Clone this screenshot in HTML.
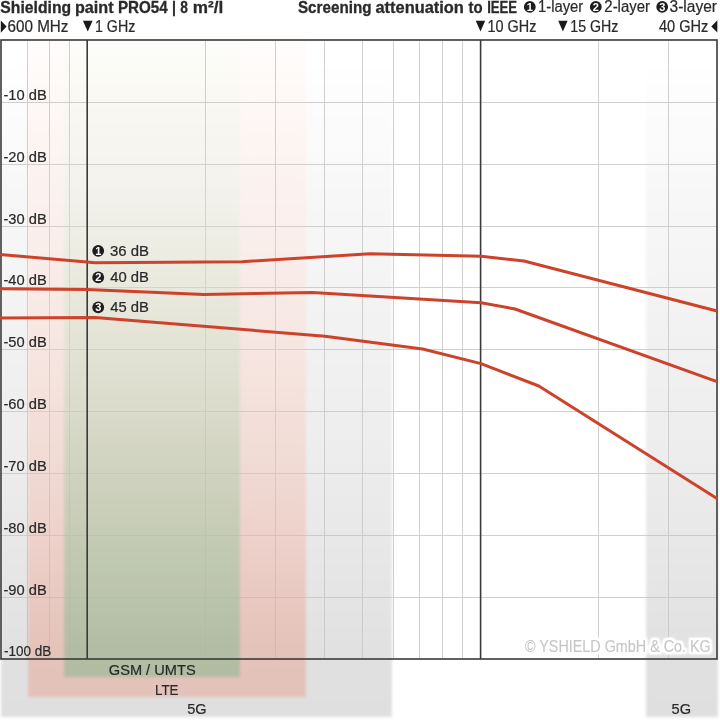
<!DOCTYPE html>
<html><head><meta charset="utf-8"><title>Shielding paint PRO54</title>
<style>
html,body{margin:0;padding:0;background:#fff;width:720px;height:720px;overflow:hidden}
svg{display:block}
text{font-family:"Liberation Sans","DejaVu Sans",sans-serif;fill:#2a2a2a;stroke:#2a2a2a;stroke-width:0.22}
.b{font-weight:bold}
.cd{fill:#fff;stroke:none;text-anchor:middle;font-weight:bold}
.b{stroke:#2a2a2a;stroke-width:0.3}
</style></head><body>
<svg width="720" height="720" viewBox="0 0 720 720">
<defs>
<linearGradient id="gGrey" gradientUnits="userSpaceOnUse" x1="0" y1="40" x2="0" y2="720"><stop offset="0.0000" stop-color="#ffffff"/><stop offset="0.0515" stop-color="#fefefe"/><stop offset="0.1324" stop-color="#fbfbfb"/><stop offset="0.2353" stop-color="#f7f7f7"/><stop offset="0.5000" stop-color="#f0f0f0"/><stop offset="0.6029" stop-color="#ededed"/><stop offset="0.7750" stop-color="#e6e6e6"/><stop offset="0.8897" stop-color="#e1e1e1"/><stop offset="1.0000" stop-color="#dfdfdf"/></linearGradient>
<linearGradient id="gPink" gradientUnits="userSpaceOnUse" x1="0" y1="40" x2="0" y2="720"><stop offset="0.0000" stop-color="#fffdfc"/><stop offset="0.0515" stop-color="#fefaf8"/><stop offset="0.2353" stop-color="#fbf1ee"/><stop offset="0.5000" stop-color="#f5e3de"/><stop offset="0.6029" stop-color="#f2dcd6"/><stop offset="0.7750" stop-color="#ebcdc6"/><stop offset="0.8897" stop-color="#e3c3ba"/><stop offset="0.9706" stop-color="#e3c1b9"/></linearGradient>
<linearGradient id="gGreen" gradientUnits="userSpaceOnUse" x1="0" y1="40" x2="0" y2="720"><stop offset="0.0000" stop-color="#fdfdfb"/><stop offset="0.0515" stop-color="#fbfaf5"/><stop offset="0.2353" stop-color="#f2f1ea"/><stop offset="0.5000" stop-color="#dfdfd0"/><stop offset="0.6029" stop-color="#d3d5c3"/><stop offset="0.7750" stop-color="#bfc7b0"/><stop offset="0.8897" stop-color="#b3bda5"/><stop offset="0.9412" stop-color="#b1bba2"/></linearGradient>
<filter id="blur" x="-5%" y="-5%" width="110%" height="110%"><feGaussianBlur stdDeviation="1.8"/></filter>
<filter id="glow" x="-5%" y="-30%" width="110%" height="160%"><feMorphology in="SourceAlpha" operator="dilate" radius="2" result="d"/><feGaussianBlur in="d" stdDeviation="1" result="b"/><feComponentTransfer in="b" result="b2"><feFuncA type="linear" slope="1.6"/></feComponentTransfer><feFlood flood-color="#fff" result="w"/><feComposite in="w" in2="b2" operator="in" result="g"/><feMerge><feMergeNode in="g"/><feMergeNode in="SourceGraphic"/></feMerge></filter>
<linearGradient id="mgGrey" gradientUnits="userSpaceOnUse" x1="0" y1="60" x2="0" y2="659"><stop offset="0" stop-color="#fff"/><stop offset="0.4" stop-color="#d0d0d0"/><stop offset="1" stop-color="#909090"/></linearGradient>
<linearGradient id="mgPink" gradientUnits="userSpaceOnUse" x1="0" y1="60" x2="0" y2="659"><stop offset="0" stop-color="#fff"/><stop offset="0.4" stop-color="#a0a0a0"/><stop offset="1" stop-color="#505050"/></linearGradient>
<linearGradient id="mgGreen" gradientUnits="userSpaceOnUse" x1="0" y1="60" x2="0" y2="659"><stop offset="0" stop-color="#fff"/><stop offset="0.4" stop-color="#707070"/><stop offset="1" stop-color="#101010"/></linearGradient>
<mask id="gmask" maskUnits="userSpaceOnUse" x="0" y="0" width="720" height="720"><rect x="0" y="0" width="720" height="720" fill="#fff"/><g filter="url(#blur)"><rect x="1" y="36" width="391" height="681" fill="url(#mgGrey)"/><rect x="646" y="36" width="72" height="681" fill="url(#mgGrey)"/><rect x="28" y="36" width="278" height="661" fill="url(#mgPink)"/><rect x="64" y="36" width="176" height="640" fill="url(#mgGreen)"/></g></mask>
</defs>
<g filter="url(#blur)">
<rect x="1" y="36" width="391" height="681" fill="url(#gGrey)"/>
<rect x="646" y="36" width="72" height="681" fill="url(#gGrey)"/>
<rect x="28" y="36" width="278" height="661" fill="url(#gPink)"/>
<rect x="64" y="36" width="176" height="641" fill="url(#gGreen)"/>
</g>
<g stroke="#d0d0d0" stroke-width="1" mask="url(#gmask)" style="mix-blend-mode:multiply">
<line x1="27.5" y1="41" x2="27.5" y2="658"/>
<line x1="49.5" y1="41" x2="49.5" y2="658"/>
<line x1="69.5" y1="41" x2="69.5" y2="658"/>
<line x1="205.5" y1="41" x2="205.5" y2="658"/>
<line x1="275.5" y1="41" x2="275.5" y2="658"/>
<line x1="324.5" y1="41" x2="324.5" y2="658"/>
<line x1="362.5" y1="41" x2="362.5" y2="658"/>
<line x1="393.5" y1="41" x2="393.5" y2="658"/>
<line x1="419.5" y1="41" x2="419.5" y2="658"/>
<line x1="442.5" y1="41" x2="442.5" y2="658"/>
<line x1="462.5" y1="41" x2="462.5" y2="658"/>
<line x1="598.5" y1="41" x2="598.5" y2="658"/>
<line x1="668.5" y1="41" x2="668.5" y2="658"/>
<line x1="1" y1="102.5" x2="716" y2="102.5"/>
<line x1="1" y1="164.5" x2="716" y2="164.5"/>
<line x1="1" y1="226.5" x2="716" y2="226.5"/>
<line x1="1" y1="287.5" x2="716" y2="287.5"/>
<line x1="1" y1="349.5" x2="716" y2="349.5"/>
<line x1="1" y1="411.5" x2="716" y2="411.5"/>
<line x1="1" y1="473.5" x2="716" y2="473.5"/>
<line x1="1" y1="535.5" x2="716" y2="535.5"/>
<line x1="1" y1="597.5" x2="716" y2="597.5"/>
</g>
<g stroke="#3a3a3a" stroke-width="1.6">
<line x1="87.2" y1="40" x2="87.2" y2="659"/>
<line x1="480.6" y1="40" x2="480.6" y2="659"/>
</g>
<rect x="1" y="40" width="716" height="619" fill="none" stroke="#3a3a3a" stroke-width="1.6"/>
<g fill="none" stroke="#cd422a" stroke-width="3" stroke-linejoin="round">
<polyline points="0,254.5 87,262 95,262.8 242,261.7 370,253.8 481,256.2 524,261 717,311"/>
<polyline points="0,288.8 87,289.5 204,294.5 312.5,292.5 481,302.7 515,309 717,381.7"/>
<polyline points="0,318 95,317.5 325,336.2 422.6,349 481,363.6 538.8,386 717,498.4"/>
</g>
<text class="b" x="0.33" y="12.50" font-size="16.50" textLength="70.77" lengthAdjust="spacingAndGlyphs">Shielding</text>
<text class="b" x="74.97" y="12.50" font-size="16.50" textLength="38.62" lengthAdjust="spacingAndGlyphs">paint</text>
<text class="b" x="117.99" y="12.50" font-size="16.50" textLength="49.75" lengthAdjust="spacingAndGlyphs">PRO54</text>
<text class="b" x="172.07" y="12.50" font-size="16.50" textLength="3.96" lengthAdjust="spacingAndGlyphs">|</text>
<text class="b" x="180.29" y="12.50" font-size="16.50" textLength="7.68" lengthAdjust="spacingAndGlyphs">8</text>
<text class="b" x="192.85" y="12.50" font-size="16.50" textLength="30.52" lengthAdjust="spacingAndGlyphs">m²/l</text>
<text class="b" x="297.94" y="12.50" font-size="16.50" textLength="73.55" lengthAdjust="spacingAndGlyphs">Screening</text>
<text class="b" x="375.51" y="12.50" font-size="16.50" textLength="88.36" lengthAdjust="spacingAndGlyphs">attenuation</text>
<text class="b" x="468.55" y="12.50" font-size="16.50" textLength="14.11" lengthAdjust="spacingAndGlyphs">to</text>
<text class="b" x="487.18" y="12.50" font-size="16.50" textLength="29.93" lengthAdjust="spacingAndGlyphs">IEEE</text>
<circle cx="529.80" cy="6.90" r="5.90" fill="#1e1e1e"/><text class="cd" x="529.80" y="10.86" font-size="11.00">1</text>
<text x="538.02" y="12.30" font-size="16.00" textLength="45.23" lengthAdjust="spacingAndGlyphs">1-layer</text>
<circle cx="595.80" cy="6.90" r="5.90" fill="#1e1e1e"/><text class="cd" x="595.80" y="10.86" font-size="11.00">2</text>
<text x="604.35" y="12.30" font-size="16.00" textLength="45.60" lengthAdjust="spacingAndGlyphs">2-layer</text>
<circle cx="662.20" cy="6.90" r="5.90" fill="#1e1e1e"/><text class="cd" x="662.20" y="10.86" font-size="11.00">3</text>
<text x="669.58" y="12.30" font-size="16.00" textLength="47.38" lengthAdjust="spacingAndGlyphs">3-layer</text>
<g fill="#1a1a1a">
<polygon points="0.8,20.4 6.6,26.6 0.8,32.8"/>
<polygon points="82.9,20.8 92.6,20.8 87.75,31.6"/>
<polygon points="475.8,20.7 485.2,20.7 480.5,31.5"/>
<polygon points="558.2,20.8 567.6,20.8 562.9,31.6"/>
<polygon points="717.3,20.3 711.3,26.4 717.3,32.6"/>
</g>
<text x="7.54" y="32.30" font-size="15.60" textLength="60.95" lengthAdjust="spacingAndGlyphs">600 MHz</text>
<text x="94.96" y="32.30" font-size="15.60" textLength="40.37" lengthAdjust="spacingAndGlyphs">1 GHz</text>
<text x="487.55" y="32.30" font-size="15.60" textLength="48.88" lengthAdjust="spacingAndGlyphs">10 GHz</text>
<text x="570.37" y="32.30" font-size="15.60" textLength="48.04" lengthAdjust="spacingAndGlyphs">15 GHz</text>
<text x="659.01" y="32.30" font-size="15.60" textLength="49.42" lengthAdjust="spacingAndGlyphs">40 GHz</text>
<text x="3.46" y="100.00" font-size="15.30" textLength="43.32" lengthAdjust="spacingAndGlyphs">-10 dB</text>
<text x="3.46" y="162.00" font-size="15.30" textLength="43.32" lengthAdjust="spacingAndGlyphs">-20 dB</text>
<text x="3.46" y="224.00" font-size="15.30" textLength="43.32" lengthAdjust="spacingAndGlyphs">-30 dB</text>
<text x="3.46" y="285.00" font-size="15.30" textLength="43.32" lengthAdjust="spacingAndGlyphs">-40 dB</text>
<text x="3.46" y="347.00" font-size="15.30" textLength="43.32" lengthAdjust="spacingAndGlyphs">-50 dB</text>
<text x="3.46" y="409.00" font-size="15.30" textLength="43.32" lengthAdjust="spacingAndGlyphs">-60 dB</text>
<text x="3.46" y="471.00" font-size="15.30" textLength="43.32" lengthAdjust="spacingAndGlyphs">-70 dB</text>
<text x="3.46" y="533.00" font-size="15.30" textLength="43.32" lengthAdjust="spacingAndGlyphs">-80 dB</text>
<text x="3.46" y="595.00" font-size="15.30" textLength="43.32" lengthAdjust="spacingAndGlyphs">-90 dB</text>
<text x="3.96" y="655.60" font-size="15.30" textLength="47.25" lengthAdjust="spacingAndGlyphs">-100 dB</text>
<circle cx="98.20" cy="250.80" r="5.90" fill="#1e1e1e"/><text class="cd" x="98.20" y="254.76" font-size="11.00">1</text>
<text x="109.90" y="256.30" font-size="14.90" textLength="38.99" lengthAdjust="spacingAndGlyphs">36 dB</text>
<circle cx="98.20" cy="277.40" r="5.90" fill="#1e1e1e"/><text class="cd" x="98.20" y="281.36" font-size="11.00">2</text>
<text x="110.20" y="282.40" font-size="14.90" textLength="38.68" lengthAdjust="spacingAndGlyphs">40 dB</text>
<circle cx="98.20" cy="307.40" r="5.90" fill="#1e1e1e"/><text class="cd" x="98.20" y="311.36" font-size="11.00">3</text>
<text x="110.20" y="312.40" font-size="14.90" textLength="38.68" lengthAdjust="spacingAndGlyphs">45 dB</text>
<text x="525.01" y="651.60" font-size="16.50" textLength="185.75" lengthAdjust="spacingAndGlyphs" style="fill:#c6c6c6;stroke:#c6c6c6;stroke-width:0.2" filter="url(#glow)">© YSHIELD GmbH &amp; Co. KG</text>
<text x="108.77" y="674.60" font-size="15.20" textLength="86.88" lengthAdjust="spacingAndGlyphs">GSM / UMTS</text>
<text x="155.03" y="694.50" font-size="15.20" textLength="23.50" lengthAdjust="spacingAndGlyphs">LTE</text>
<text x="187.22" y="713.80" font-size="15.20" textLength="19.35" lengthAdjust="spacingAndGlyphs">5G</text>
<text x="671.62" y="713.70" font-size="15.20" textLength="19.46" lengthAdjust="spacingAndGlyphs">5G</text>
</svg>
</body></html>
